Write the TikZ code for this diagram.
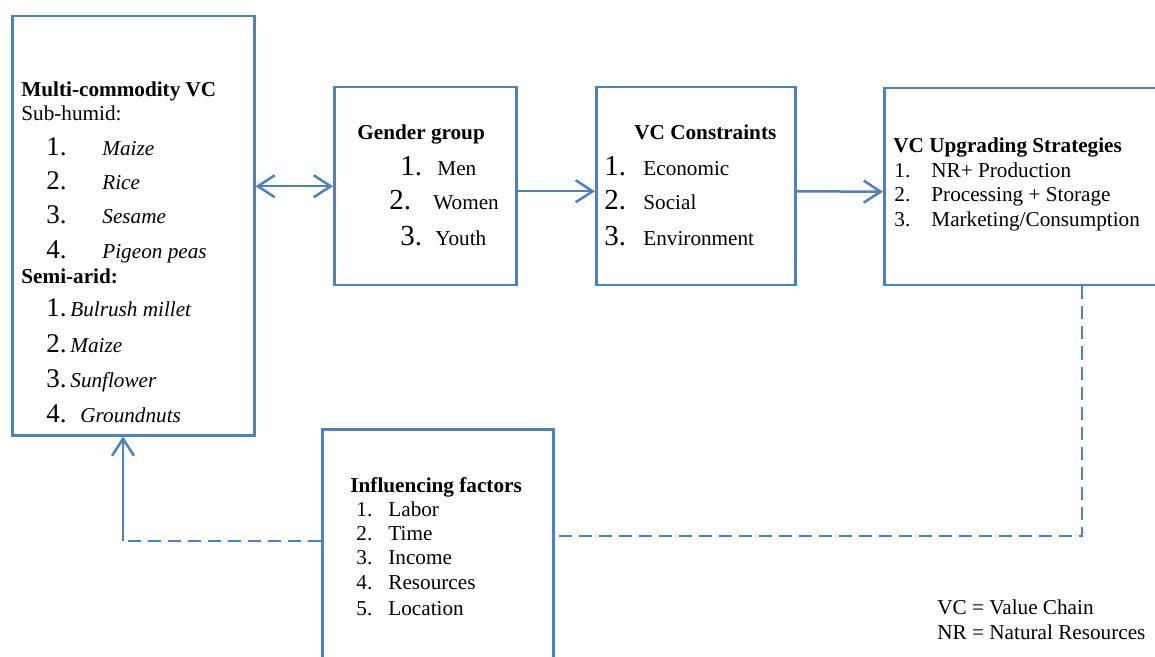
\documentclass[tikz,border=0pt]{standalone}
\usepackage{fontspec}
\setmainfont{Liberation Serif}
\usetikzlibrary{arrows.meta}
\definecolor{linkblue}{RGB}{79,129,189}
\tikzset{
  panel/.style={draw=linkblue, line width=1.25pt, anchor=north west, inner sep=0pt},
  txt/.style={anchor=base west, inner sep=0pt, font=\fontsize{10.6pt}{12pt}\selectfont},
  head/.style={txt, font=\fontsize{10.6pt}{12pt}\selectfont\bfseries},
  itm/.style={txt, font=\fontsize{10.6pt}{12pt}\selectfont\itshape},
  numL/.style={txt, font=\fontsize{13.5pt}{14pt}\selectfont},
  numB/.style={txt, font=\fontsize{14.5pt}{16pt}\selectfont},
  link/.style={draw=linkblue, line width=1.25pt},
  tip/.style={link, -{Straight Barb[length=8.5pt,width=11pt]}},
  twotip/.style={link, {Straight Barb[length=8.5pt,width=11pt]}-{Straight Barb[length=8.5pt,width=11pt]}},
  dashlink/.style={link, dash pattern=on 6.5pt off 3.5pt}
}
\begin{document}
\begin{tikzpicture}[x=0.5pt, y=-0.5pt]
\useasboundingbox (0,0) rectangle (1155,657);

% boxes
\node[panel, minimum width=121pt, minimum height=209.5pt] (mc) at (11,15) {};
\node[panel, minimum width=91pt, minimum height=99pt] (gender) at (333,86) {};
\node[panel, minimum width=99.5pt, minimum height=99pt] (cons) at (595,86) {};
\node[panel, minimum width=150pt, minimum height=98.5pt] (upg) at (883,87) {};
\node[panel, minimum width=115.5pt, minimum height=130pt] (infl) at (321,428) {};

% multi-commodity value chain box
\node[head] (mcT) at (21,97) {Multi-commodity VC};
\node[txt] (mcS) at (21,121) {Sub-humid:};
\node[numL] (s1) at (46,156) {1.};  \node[itm] (s1t) at (102,156) {Maize};
\node[numL] (s2) at (46,190) {2.};  \node[itm] (s2t) at (102,190) {Rice};
\node[numL] (s3) at (46,224) {3.};  \node[itm] (s3t) at (102,224) {Sesame};
\node[numL] (s4) at (46,259) {4.};  \node[itm] (s4t) at (102,259) {Pigeon peas};
\node[head] (mcA) at (21,284) {Semi-arid:};
\node[numL] (a1) at (46,317) {1.};  \node[itm] (a1t) at (70,317) {Bulrush millet};
\node[numL] (a2) at (46,352) {2.};  \node[itm] (a2t) at (70,352) {Maize};
\node[numL] (a3) at (46,387) {3.};  \node[itm] (a3t) at (70,387) {Sunflower};
\node[numL] (a4) at (46,422) {4.};  \node[itm] (a4t) at (80,422) {Groundnuts};

% gender group box
\node[head] (gT) at (357,140) {Gender group};
\node[numB] (g1) at (400,176) {1.}; \node[txt] (g1t) at (437,176) {Men};
\node[numB] (g2) at (389,210) {2.}; \node[txt] (g2t) at (433,210) {Women};
\node[numB] (g3) at (400,246) {3.}; \node[txt] (g3t) at (435,246) {Youth};

% constraints box
\node[head] (cT) at (634,140) {VC Constraints};
\node[numB] (c1) at (604,176) {1.}; \node[txt] (c1t) at (643,176) {Economic};
\node[numB] (c2) at (604,210) {2.}; \node[txt] (c2t) at (643,210) {Social};
\node[numB] (c3) at (604,246) {3.}; \node[txt] (c3t) at (643,246) {Environment};

% upgrading strategies box
\node[head] (uT) at (893,153) {VC Upgrading Strategies};
\node[txt] (u1) at (894,178) {1.}; \node[txt] (u1t) at (931,178) {NR+ Production};
\node[txt] (u2) at (894,202) {2.}; \node[txt] (u2t) at (931,202) {Processing + Storage};
\node[txt] (u3) at (894,227) {3.}; \node[txt] (u3t) at (931,227) {Marketing/Consumption};

% influencing factors box
\node[head] (iT) at (350,492) {Influencing factors};
\node[txt] (i1) at (356,516) {1.}; \node[txt] (i1t) at (388,516) {Labor};
\node[txt] (i2) at (356,540) {2.}; \node[txt] (i2t) at (388,540) {Time};
\node[txt] (i3) at (356,564) {3.}; \node[txt] (i3t) at (388,564) {Income};
\node[txt] (i4) at (356,589) {4.}; \node[txt] (i4t) at (388,589) {Resources};
\node[txt] (i5) at (356,615) {5.}; \node[txt] (i5t) at (388,615) {Location};

% abbreviations
\node[txt] (k1) at (937,614) {VC = Value Chain};
\node[txt] (k2) at (937,639) {NR = Natural Resources};

% connectors
\draw[twotip] (gender.west -| mc.east) -- (gender.west);
\draw[tip] ([yshift=-2.5pt]gender.east) -- ([yshift=-2.5pt]cons.west);
\draw[tip] ([yshift=-2.5pt]cons.east) -- ([yshift=-2.5pt]upg.west);

\coordinate (turnR) at (1082,536);
\coordinate (turnL) at (123,541);
\draw[dashlink] (upg.south -| turnR) -- (turnR) -- (turnR -| infl.east);
\draw[dashlink] (infl.west |- turnL) -- (turnL);
\draw[tip] (turnL) -- (turnL |- mc.south);
\end{tikzpicture}
\end{document}
